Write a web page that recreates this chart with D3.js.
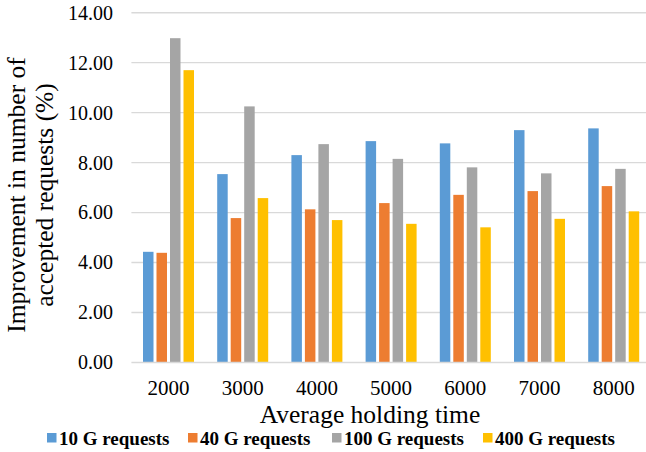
<!DOCTYPE html>
<html>
<head>
<meta charset="utf-8">
<script src="https://cdn.jsdelivr.net/npm/d3@7"></script>
<style>
  html, body { margin: 0; padding: 0; background: #fff; }
  svg { display: block; }
  svg text { font-family: "Liberation Serif", "Times New Roman", serif !important; fill: #000; }
</style>
</head>
<body>
<svg id="chart" width="646" height="452"></svg>
<script>
// Average holding time categories
const holdingTimes = ["2000", "3000", "4000", "5000", "6000", "7000", "8000"];
// Series names
const seriesNames = ["10 G requests", "40 G requests", "100 G requests", "400 G requests"];
// Improvement (%) per series, one value per holding time
const req10G  = [4.43, 7.54, 8.30, 8.86, 8.77, 9.30, 9.37];
const req40G  = [4.39, 5.78, 6.13, 6.38, 6.71, 6.86, 7.06];
const req100G = [12.98, 10.25, 8.74, 8.15, 7.81, 7.57, 7.75];
const req400G = [11.70, 6.58, 5.70, 5.55, 5.41, 5.75, 6.05];
const seriesValues = [req10G, req40G, req100G, req400G];
const colors = ["#5B9BD5", "#ED7D31", "#A5A5A5", "#FFC000"];
const yTicks = [0, 2, 4, 6, 8, 10, 12, 14];

const serif = '"Liberation Serif", "Times New Roman", serif';
const svg = d3.select("#chart");
const plot = { left: 131.4, right: 650.8, top: 12.7, bottom: 362.5 };

const x0 = d3.scaleBand().domain(holdingTimes).range([plot.left, plot.right]).paddingInner(0).paddingOuter(0);
const groupW = 51;
const x1 = d3.scaleBand().domain(seriesNames).range([0, groupW]).paddingInner(0.222).paddingOuter(0);
const y = d3.scaleLinear().domain([0, 14]).range([plot.bottom, plot.top]);

// Horizontal gridlines
svg.append("g")
  .selectAll("line")
  .data(yTicks.filter(d => d > 0))
  .join("line")
  .attr("x1", plot.left).attr("x2", plot.right)
  .attr("y1", d => y(d)).attr("y2", d => y(d))
  .attr("stroke", "#d9d9d9").attr("stroke-width", 1.4);

// Bars
const rows = holdingTimes.map((t, i) => ({ t, vals: seriesNames.map((s, j) => ({ s, j, v: seriesValues[j][i] })) }));
const groups = svg.append("g").selectAll("g")
  .data(rows).join("g")
  .attr("transform", d => `translate(${x0(d.t) + (x0.bandwidth() - groupW) / 2},0)`);
groups.selectAll("rect")
  .data(d => d.vals).join("rect")
  .attr("x", d => x1(d.s))
  .attr("width", x1.bandwidth())
  .attr("y", d => y(d.v))
  .attr("height", d => y(0) - y(d.v))
  .attr("fill", d => colors[d.j]);

// Category axis line
svg.append("line")
  .attr("x1", plot.left).attr("x2", plot.right)
  .attr("y1", y(0)).attr("y2", y(0))
  .attr("stroke", "#d9d9d9").attr("stroke-width", 1.6);

// Y tick labels
const yAxis = d3.axisLeft(y).tickValues(yTicks).tickFormat(d3.format(".2f")).tickSize(0).tickPadding(0);
const yg = svg.append("g").attr("transform", `translate(113,0)`).call(yAxis)
  .attr("font-family", serif).attr("font-size", 20);
yg.select(".domain").remove();
yg.selectAll("text").style("font-family", serif).style("font-size", "20px").attr("fill", "#000");

// X tick labels
const xAxis = d3.axisBottom(x0).tickSize(0).tickPadding(0);
const xg = svg.append("g").call(xAxis)
  .attr("font-family", serif).attr("font-size", 21);
xg.select(".domain").remove();
xg.selectAll("text").style("font-family", serif).style("font-size", "21px").attr("fill", "#000")
  .attr("y", 395).attr("dy", null);

// Axis titles
svg.append("text")
  .attr("x", 370).attr("y", 423)
  .attr("text-anchor", "middle").style("font-size", "25.5px")
  .text("Average holding time");

const yTitle = svg.append("text")
  .attr("transform", "translate(0,195) rotate(-90)")
  .attr("text-anchor", "middle").style("font-size", "25.5px");
yTitle.append("tspan").attr("x", 0).attr("y", 25).text("Improvement in number of");
yTitle.append("tspan").attr("x", 0).attr("y", 53).text("accepted requests (%)");

// Legend
const legendX = [47, 188, 332, 483];
const legend = svg.append("g").selectAll("g")
  .data(seriesNames).join("g")
  .attr("transform", (d, i) => `translate(${legendX[i]},438)`);
legend.append("rect")
  .attr("x", 0).attr("y", -5).attr("width", 9.5).attr("height", 9.5)
  .attr("fill", (d, i) => colors[i]);
legend.append("text")
  .attr("x", 12).attr("y", 6.5)
  .style("font-size", "19px").style("font-weight", "bold")
  .text(d => d);
</script>
</body>
</html>
